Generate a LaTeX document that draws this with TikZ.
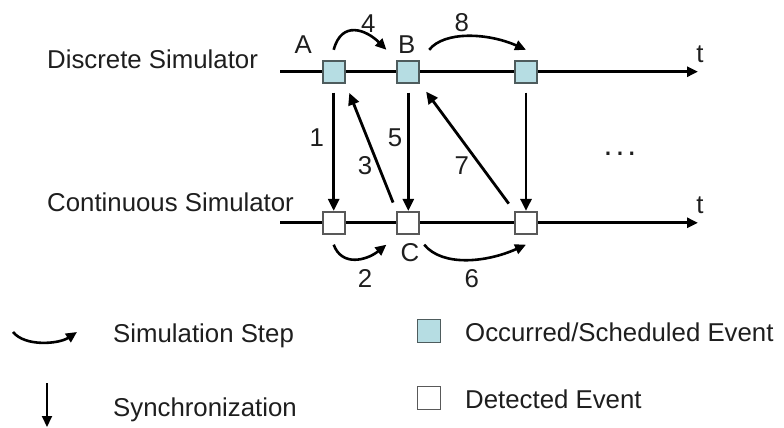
\documentclass[tikz,border=0pt]{standalone}
\usepackage{fontspec}
\setmainfont{Liberation Sans}
\usepackage{tikz}
\usetikzlibrary{arrows.meta,positioning,calc}
\definecolor{EventFill}{HTML}{B6DDE3}
\definecolor{EventEdge}{HTML}{4E5C5D}
\definecolor{InkGrey}{HTML}{1E1E1E}

\begin{document}
\begin{tikzpicture}[x=1pt,y=-1pt,font=\fontsize{25.8}{31}\selectfont,text=InkGrey,
  occ/.style={draw=EventEdge,fill=EventFill,line width=1.8pt,minimum size=22pt,inner sep=0pt},
  det/.style={draw=black!65,fill=white,line width=1.8pt,minimum size=22pt,inner sep=0pt},
  axis/.style={line width=3pt,-{Triangle[length=11pt,width=10pt]}},
  sync/.style={line width=2.8pt,-{Triangle[length=12pt,width=11pt]}},
  simstep/.style={line width=2.6pt,-{Triangle[length=11pt,width=10pt]}},
  lbl/.style={inner sep=0pt}]
  \useasboundingbox (0,0) rectangle (784,428);

  \node[lbl,anchor=base west] (dsim) at (47,69) {Discrete Simulator};
  \node[lbl,anchor=base west] (csim) at (47,211) {Continuous Simulator};

  \coordinate (dstart) at (280,71.7);
  \coordinate (dend) at (698,71.7);
  \coordinate (cstart) at (280,222.8);
  \coordinate (cend) at (698,222.8);
  \draw[axis] (dstart) -- (dend);
  \draw[axis] (cstart) -- (cend);
  \node[lbl,anchor=base] (tdisc) at (700,63) {t};
  \node[lbl,anchor=base] (tcont) at (700,213) {t};

  \foreach \n/\x in {1/333.7,2/408.3,3/526}{
    \node[occ] (a\n) at (\x,71.7) {};
    \node[det] (c\n) at (\x,222.8) {};
  }

  \node[lbl,anchor=base] (la) at (303.3,53.5) {A};
  \node[lbl,anchor=base] (lb) at (406.7,53.5) {B};
  \node[lbl,anchor=base] (lc) at (410,261) {C};

  \foreach \n in {1,2,3}{
    \draw[sync,shorten <=9pt] (a\n) -- (c\n);
  }
  \draw[sync,shorten <=9pt,shorten >=10pt] (c2.north west) -- (a1.south east);
  \draw[sync,shorten <=9pt,shorten >=10pt] (c3.north west) -- (a2.south east);

  \draw[simstep] ([yshift=10pt]a1.north) .. controls +(8,-30) and +(-20,-20) .. ([xshift=-10pt,yshift=10pt]a2.north west);
  \draw[simstep] ([xshift=9pt,yshift=10pt]a2.north east) .. controls +(15,-19) and +(-38,-17) .. ([yshift=10pt]a3.north);
  \draw[simstep] ([yshift=-10pt]c1.south) .. controls +(8,22) and +(-20,16) .. ([xshift=-10pt,yshift=-10pt]c2.south west);
  \draw[simstep] ([xshift=4pt,yshift=-10pt]c2.south east) .. controls +(18,22) and +(-40,18) .. ([yshift=-10pt]c3.south);

  \node[lbl,anchor=base] (n1) at (316.7,146) {1};
  \node[lbl,anchor=base] (n2) at (365,287) {2};
  \node[lbl,anchor=base] (n3) at (365,174) {3};
  \node[lbl,anchor=base] (n4) at (368.3,32.5) {4};
  \node[lbl,anchor=base] (n5) at (395,146) {5};
  \node[lbl,anchor=base] (n6) at (471.7,287) {6};
  \node[lbl,anchor=base] (n7) at (461.7,174) {7};
  \node[lbl,anchor=base] (n8) at (461.7,32) {8};
  \node[lbl,anchor=base] (more) at (620,155) {\fontsize{32}{32}\selectfont.\hspace{3pt}.\hspace{3pt}.};

  \coordinate (stepfrom) at (13,332);
  \coordinate (stepto) at (77,332);
  \draw[simstep] (stepfrom) .. controls +(12,15) and +(-18,12) .. (stepto);
  \node[lbl,anchor=base west] (stepkey) at (113,342) {Simulation Step};

  \coordinate (syncfrom) at (47,383);
  \coordinate (syncto) at (47,427);
  \draw[line width=2pt,-{Triangle[length=11pt,width=10pt]}] (syncfrom) -- (syncto);
  \node[lbl,anchor=base west] (synckey) at (113,416) {Synchronization};

  \node[occ,minimum size=23pt] (occbox) at (429,331) {};
  \node[lbl,anchor=base west] (occkey) at (465,341) {Occurred/Scheduled Event};
  \node[det,minimum size=23pt] (detbox) at (429,398) {};
  \node[lbl,anchor=base west] (detkey) at (465,408) {Detected Event};
\end{tikzpicture}
\end{document}
